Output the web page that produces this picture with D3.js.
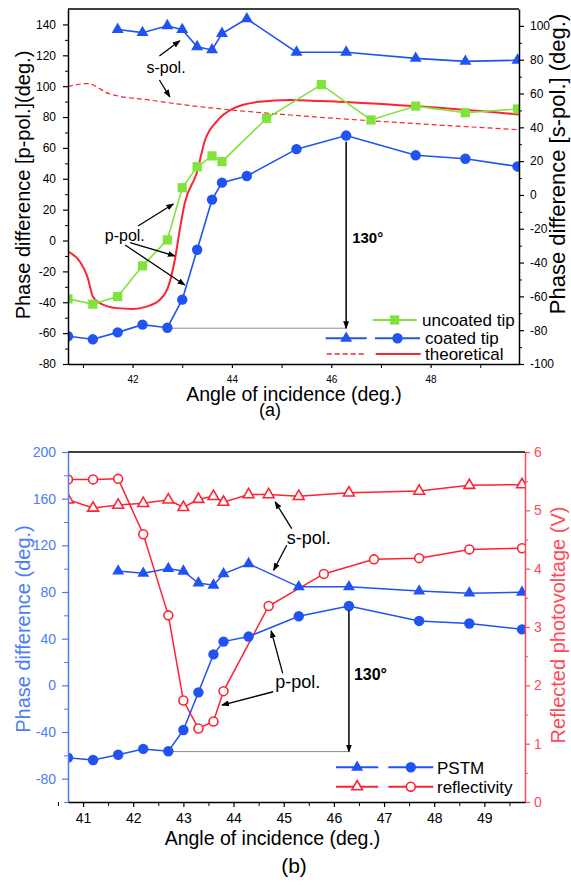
<!DOCTYPE html>
<html>
<head>
<meta charset="utf-8">
<script src="https://cdn.jsdelivr.net/npm/d3@7"></script>
<style>
body{margin:0;background:#fff}
text{font-family:"Liberation Sans",Arial,sans-serif}
</style>
</head>
<body>
<svg id="chart" width="571" height="888"></svg>
<script>
// ---- data ----
var angle_pstm = [40.7,41.2,41.7,42.2,42.7,43.0,43.3,43.6,43.8,44.3,45.3,46.3,47.7,48.7,49.75];
var pstm_ppol  = [-62,-64,-59.5,-54.5,-56.5,-38.3,-6,26.5,37.5,41.8,59.2,68,55.2,53,48];
var angle_spol = [41.7,42.2,42.7,43.0,43.3,43.6,43.8,44.3,45.3,46.3,47.7,48.7,49.75];
var pstm_spol  = [97.9,96,100.1,97.8,87.7,85.8,95.5,104.2,84.4,84.4,80.8,79,79.7];
var angle_unc  = [40.7,41.2,41.7,42.2,42.7,43.0,43.3,43.6,43.8,44.7,45.8,46.8,47.7,48.7,49.75];
var uncoated_ppol = [-37.8,-41.2,-36.3,-16.4,0.4,34.2,47.8,54.8,51.1,79.2,101,78.1,87.1,82.8,85.2];
var theo_p_angle = [40.7,40.94,41.09,41.2,41.34,41.68,42.01,42.28,42.55,42.72,42.85,42.95,43.05,43.29,43.46,43.69,44.03,44.56,45.17,45.77,47.65,49.78];
var theo_p_val   = [-7.2,-13.7,-23.4,-36.3,-40.6,-43.8,-44.3,-42.8,-38.4,-29.8,-12.6,6.9,24.1,43.6,65.1,77,85.6,89.9,91,90.4,87.1,81.7];
var theo_s_angle = [40.7,41.08,41.55,42.35,43.36,44.16,45.17,47.65,49.78];
var theo_s_val   = [64.1,65.9,59.7,56.1,52.2,49.8,47.3,42.3,38.6];
var angle_refl_p = [40.7,41.2,41.7,42.2,42.7,43.0,43.3,43.6,43.8,44.7,45.8,46.8,47.7,48.7,49.75];
var refl_ppol    = [5.53,5.53,5.54,4.59,3.20,1.74,1.26,1.38,1.90,3.36,3.91,4.16,4.18,4.33,4.35];
var angle_refl_s = [40.7,41.2,41.7,42.2,42.7,43.0,43.3,43.6,43.8,44.3,44.7,45.3,46.3,47.7,48.7,49.75];
var refl_spol    = [5.18,5.04,5.09,5.12,5.18,5.05,5.19,5.24,5.14,5.27,5.27,5.24,5.30,5.33,5.43,5.44];

var ticks_a_left  = [-80,-60,-40,-20,0,20,40,60,80,100,120,140];
var ticks_a_right = [-100,-80,-60,-40,-20,0,20,40,60,80,100];
var ticks_a_x     = [42,44,46,48];
var ticks_b_left  = [-80,-40,0,40,80,120,160,200];
var ticks_b_right = [0,1,2,3,4,5,6];
var ticks_b_x     = [41,42,43,44,45,46,47,48,49];

var blue = "#2152f2", green = "#80e33a", red = "#ff2233";
var axisBlue = "#4d7cf6", axisRed = "#ff4a5a";
var font = "Liberation Sans, Arial, sans-serif";

var svg = d3.select("#chart");
svg.append("rect").attr("width",571).attr("height",888).attr("fill","#fff");

var defs = svg.append("defs");
defs.append("marker").attr("id","head").attr("markerWidth",8).attr("markerHeight",6)
  .attr("refX",7).attr("refY",3).attr("orient","auto").attr("markerUnits","userSpaceOnUse")
  .append("path").attr("d","M0,0 L8,3 L0,6 Z").attr("fill","#000");

function shape(kind, open){
  if (kind=="tri") return d3.symbol(d3.symbolTriangle, open ? 50 : 62)();
  if (kind=="sq") return d3.symbol(d3.symbolSquare, 85)();
  return d3.symbol(d3.symbolCircle, open ? 62 : 85)();
}
function drawLine(g, xs, ys, xsc, ysc, color, w, dash, curve){
  var ln = d3.line().x(function(d){return xsc(d);}).y(function(d,i){return ysc(ys[i]);}).curve(curve || d3.curveLinear);
  g.append("path").attr("d", ln(xs)).attr("fill","none").attr("stroke",color)
   .attr("stroke-width",w).attr("stroke-dasharray", dash || null);
}
function drawMarks(g, xs, ys, xsc, ysc, kind, color, open){
  g.selectAll(null).data(xs).enter().append("path")
   .attr("transform", function(d,i){return "translate("+xsc(d)+","+ysc(ys[i])+")";})
   .attr("d", shape(kind, open))
   .attr("fill", open ? "#fff" : color).attr("stroke", color).attr("stroke-width", open ? 1.6 : 0);
}
function styleAxis(g, color, size){
  g.attr("font-family", font).attr("font-size", size).attr("color", color);
  g.select(".domain").attr("stroke-width",1.5);
  g.selectAll("line").attr("stroke-width",1.2);
}
function arrow(g, x1, y1, x2, y2, w){
  g.append("line").attr("x1",x1).attr("y1",y1).attr("x2",x2).attr("y2",y2)
   .attr("stroke","#000").attr("stroke-width", w || 1.3).attr("marker-end","url(#head)");
}
function legendRow(g, x1, x2, y, kind, color, open, dash){
  g.append("line").attr("x1",x1).attr("x2",x2).attr("y1",y).attr("y2",y)
   .attr("stroke",color).attr("stroke-width",dash ? 1.5 : 2).attr("stroke-dasharray", dash || null);
  if (kind) g.append("path").attr("transform","translate("+((x1+x2)/2)+","+y+")").attr("d", shape(kind, open))
   .attr("fill", open ? "#fff" : color).attr("stroke", color).attr("stroke-width", open ? 1.6 : 0);
}
var fmt = function(d){ return String(d); };

// ================= panel (a) =================
var A = {left:68, right:519, top:9, bottom:364};
var xa = d3.scaleLinear().domain([40.7,49.78]).range([A.left,A.right]);
var ya = d3.scaleLinear().domain([-80,150]).range([A.bottom,A.top]);
var ya2 = d3.scaleLinear().domain([-100,110]).range([A.bottom,A.top]);
var pa = svg.append("g");

defs.append("clipPath").attr("id","clipA").append("rect")
  .attr("x",A.left).attr("y",A.top).attr("width",A.right-A.left).attr("height",A.bottom-A.top);
var plotA = pa.append("g").attr("clip-path","url(#clipA)");

// guide line and 130 deg arrow
plotA.append("line").attr("x1",xa(42.7)).attr("x2",xa(46.3)).attr("y1",ya(-56.8)).attr("y2",ya(-56.8))
  .attr("stroke","#888").attr("stroke-width",1);

drawLine(plotA, theo_s_angle, theo_s_val, xa, ya2, red, 1.2, "5,3", d3.curveMonotoneX);
drawLine(plotA, theo_p_angle, theo_p_val, xa, ya, red, 2, null, d3.curveMonotoneX);
drawLine(plotA, angle_unc, uncoated_ppol, xa, ya, green, 1.6);
drawLine(plotA, angle_pstm, pstm_ppol, xa, ya, blue, 1.6);
drawLine(plotA, angle_spol, pstm_spol, xa, ya2, blue, 1.6);
drawMarks(plotA, angle_unc, uncoated_ppol, xa, ya, "sq", green);
drawMarks(plotA, angle_pstm, pstm_ppol, xa, ya, "circle", blue);
drawMarks(plotA, angle_spol, pstm_spol, xa, ya2, "tri", blue);

arrow(pa, xa(46.3), ya(64), xa(46.3), ya(-56.8), 1.5);
pa.append("text").attr("x", xa(46.3)+6).attr("y", ya(-1.6)).attr("font-size",15).attr("font-weight","bold").text("130°");

// annotations
pa.append("text").attr("x",xa(42.28)).attr("y",ya(108.5)).attr("font-size",16).text("s-pol.");
arrow(pa, xa(42.54), ya(119.5), xa(42.95), ya(129.4));
arrow(pa, xa(42.54), ya(104), xa(42.75), ya(93.1));
pa.append("text").attr("x",xa(41.44)).attr("y",ya(0)).attr("font-size",16).text("p-pol.");
arrow(pa, xa(42.11), ya(9.4), xa(42.82), ya(23.7));
arrow(pa, xa(41.95), ya(-1.4), xa(42.85), ya(-10));
arrow(pa, xa(41.85), ya(-2.9), xa(43.05), ya(-28.8));

// axes
pa.append("line").attr("x1",A.left).attr("x2",A.right).attr("y1",A.top).attr("y2",A.top).attr("stroke","#000").attr("stroke-width",1.5);
var gaL = pa.append("g").attr("transform","translate("+A.left+",0)")
  .call(d3.axisLeft(ya).tickValues(ticks_a_left).tickSize(5).tickPadding(7).tickSizeOuter(0).tickFormat(fmt));
styleAxis(gaL, "#000", 12);
pa.append("g").attr("transform","translate("+A.left+",0)")
  .call(d3.axisLeft(ya).tickValues(d3.range(-70,150,20)).tickSize(3).tickSizeOuter(0).tickFormat(""))
  .attr("color","#000").select(".domain").remove();
var gaR = pa.append("g").attr("transform","translate("+A.right+",0)")
  .call(d3.axisRight(ya2).tickValues(ticks_a_right).tickSize(5).tickPadding(6).tickSizeOuter(0).tickFormat(fmt));
styleAxis(gaR, "#000", 12);
pa.append("g").attr("transform","translate("+A.right+",0)")
  .call(d3.axisRight(ya2).tickValues(d3.range(-90,110,20)).tickSize(3).tickSizeOuter(0).tickFormat(""))
  .attr("color","#000").select(".domain").remove();
var gaB = pa.append("g").attr("transform","translate(0,"+A.bottom+")")
  .call(d3.axisBottom(xa).tickValues(ticks_a_x).tickSize(4).tickPadding(8).tickSizeOuter(0).tickFormat(fmt));
styleAxis(gaB, "#000", 10);
pa.append("g").attr("transform","translate(0,"+A.bottom+")")
  .call(d3.axisBottom(xa).tickValues([41,43,45,47,49]).tickSize(4).tickSizeOuter(0).tickFormat(""))
  .attr("color","#000").select(".domain").remove();

pa.append("text").attr("x",294).attr("y",401).attr("text-anchor","middle").attr("font-size",19.5).text("Angle of incidence (deg.)");
pa.append("text").attr("x",270).attr("y",415.5).attr("text-anchor","middle").attr("font-size",18).text("(a)");
pa.append("text").attr("transform","translate(30,185) rotate(-90)").attr("text-anchor","middle").attr("font-size",20)
  .text("Phase difference [p-pol.](deg.)");
pa.append("text").attr("transform","translate(565,164) rotate(-90)").attr("text-anchor","middle").attr("font-size",22)
  .text("Phase difference [s-pol.] (deg.)");

// legend (a)
legendRow(pa, 372.7, 416.7, 320, "sq", green, false);
legendRow(pa, 325.7, 366.7, 338.3, "tri", blue, false);
legendRow(pa, 375, 420, 338.3, "circle", blue, false);
legendRow(pa, 326.7, 366.7, 354, null, red, false, "5,3");
legendRow(pa, 375.7, 420.7, 354, null, red, false);
pa.append("text").attr("x",422).attr("y",326).attr("font-size",17).text("uncoated tip");
pa.append("text").attr("x",425).attr("y",344.3).attr("font-size",17).text("coated tip");
pa.append("text").attr("x",425).attr("y",360).attr("font-size",17).text("theoretical");

// ================= panel (b) =================
var B = {left:68, right:525, top:452, bottom:802};
var xb = d3.scaleLinear().domain([40.7,49.81]).range([B.left,B.right]);
var yb = d3.scaleLinear().domain([-100,200]).range([B.bottom,B.top]);
var yb2 = d3.scaleLinear().domain([0,6]).range([B.bottom,B.top]);
var pb = svg.append("g");

defs.append("clipPath").attr("id","clipB").append("rect")
  .attr("x",B.left).attr("y",B.top).attr("width",B.right-B.left).attr("height",B.bottom-B.top);
var plotB = pb.append("g").attr("clip-path","url(#clipB)");

plotB.append("line").attr("x1",xb(42.7)).attr("x2",xb(46.3)).attr("y1",yb(-56.8)).attr("y2",yb(-56.8))
  .attr("stroke","#888").attr("stroke-width",1);

drawLine(plotB, angle_refl_s, refl_spol, xb, yb2, red, 1.5);
drawLine(plotB, angle_refl_p, refl_ppol, xb, yb2, red, 1.5);
drawLine(plotB, angle_spol, pstm_spol, xb, yb, blue, 1.5);
drawLine(plotB, angle_pstm, pstm_ppol, xb, yb, blue, 1.5);
drawMarks(plotB, angle_spol, pstm_spol, xb, yb, "tri", blue);
drawMarks(plotB, angle_pstm, pstm_ppol, xb, yb, "circle", blue);
drawMarks(plotB, angle_refl_s, refl_spol, xb, yb2, "tri", red, true);
drawMarks(plotB, angle_refl_p, refl_ppol, xb, yb2, "circle", red, true);

arrow(pb, xb(46.3), yb(64), xb(46.3), yb(-56.8), 1.5);
pb.append("text").attr("x", xb(46.3)+5).attr("y", yb(4.5)).attr("font-size",16).attr("font-weight","bold").text("130°");

pb.append("text").attr("x",xb(45.06)).attr("y",yb(121)).attr("font-size",18).text("s-pol.");
arrow(pb, xb(45.16), yb(134.4), xb(44.83), yb(157.2));
arrow(pb, xb(45.06), yb(120.1), xb(44.8), yb(98.7));
pb.append("text").attr("x",xb(44.83)).attr("y",yb(-2.3)).attr("font-size",18).text("p-pol.");
arrow(pb, xb(44.98), yb(10.3), xb(44.75), yb(46.7));
arrow(pb, xb(44.79), yb(-5.5), xb(43.77), yb(-16.9));

pb.append("line").attr("x1",B.left).attr("x2",B.right).attr("y1",B.top).attr("y2",B.top).attr("stroke","#000").attr("stroke-width",1.5);
var gbL = pb.append("g").attr("transform","translate("+B.left+",0)")
  .call(d3.axisLeft(yb).tickValues(ticks_b_left).tickSize(6).tickPadding(6).tickSizeOuter(0).tickFormat(fmt));
styleAxis(gbL, axisBlue, 14);
pb.append("g").attr("transform","translate("+B.left+",0)")
  .call(d3.axisLeft(yb).tickValues(d3.range(-100,200,40)).tickSize(4).tickSizeOuter(0).tickFormat(""))
  .attr("color",axisBlue).select(".domain").remove();
var gbR = pb.append("g").attr("transform","translate("+B.right+",0)")
  .call(d3.axisRight(yb2).tickValues(ticks_b_right).tickSize(5).tickPadding(4).tickSizeOuter(0).tickFormat(fmt));
styleAxis(gbR, axisRed, 14);
pb.append("g").attr("transform","translate("+B.right+",0)")
  .call(d3.axisRight(yb2).tickValues(d3.range(0.5,6,1)).tickSize(3).tickSizeOuter(0).tickFormat(""))
  .attr("color",axisRed).select(".domain").remove();
var gbB = pb.append("g").attr("transform","translate(0,"+B.bottom+")")
  .call(d3.axisBottom(xb).tickValues(ticks_b_x).tickSize(5).tickPadding(6).tickSizeOuter(0).tickFormat(fmt));
styleAxis(gbB, "#000", 14);
pb.append("g").attr("transform","translate(0,"+B.bottom+")")
  .call(d3.axisBottom(xb).tickValues(d3.range(40.5,50,1)).tickSize(4).tickSizeOuter(0).tickFormat(""))
  .attr("color","#000").select(".domain").remove();

pb.append("text").attr("x",272.5).attr("y",845).attr("text-anchor","middle").attr("font-size",19.5).text("Angle of incidence (deg.)");
pb.append("text").attr("x",294).attr("y",873).attr("text-anchor","middle").attr("font-size",21).text("(b)");
pb.append("text").attr("transform","translate(30,629) rotate(-90)").attr("text-anchor","middle").attr("font-size",20)
  .attr("fill",axisBlue).text("Phase difference (deg.)");
pb.append("text").attr("transform","translate(565,625) rotate(-90)").attr("text-anchor","middle").attr("font-size",20)
  .attr("fill",axisRed).text("Reflected photovoltage (V)");

// legend (b)
legendRow(pb, 336, 378.3, 767.3, "tri", blue, false);
legendRow(pb, 388.3, 433.3, 767.3, "circle", blue, false);
legendRow(pb, 336, 378.3, 786.7, "tri", red, true);
legendRow(pb, 388.3, 433.3, 786.7, "circle", red, true);
pb.append("text").attr("x",437).attr("y",773.5).attr("font-size",17).text("PSTM");
pb.append("text").attr("x",437).attr("y",793).attr("font-size",17).text("reflectivity");
</script>
</body>
</html>
